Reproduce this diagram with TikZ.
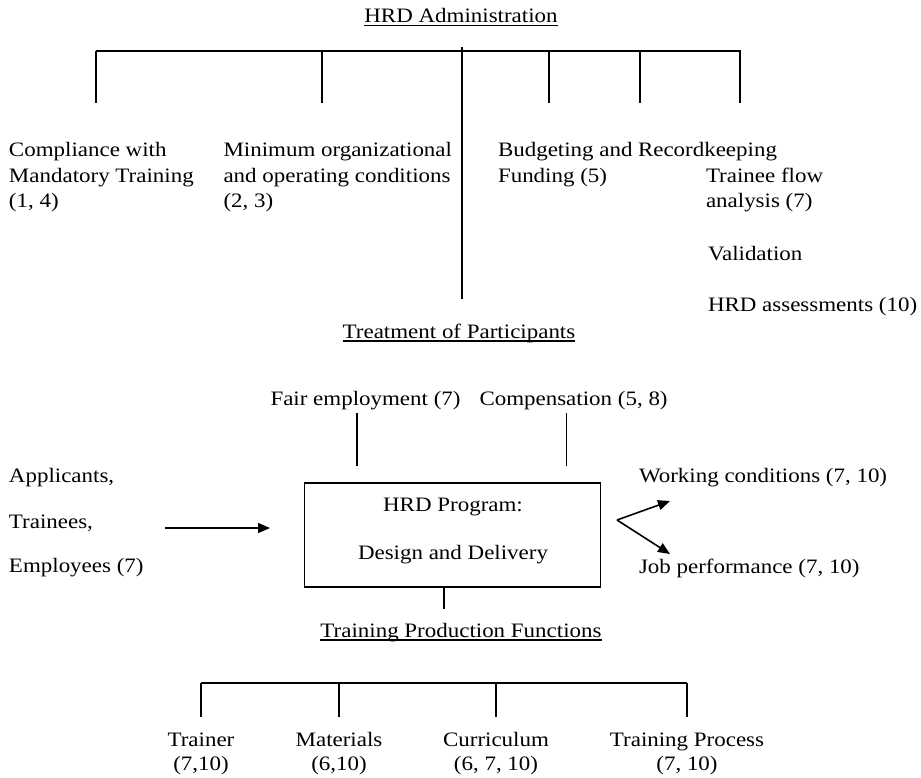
\documentclass[tikz,border=0pt]{standalone}
\usepackage{fontspec}
\setmainfont{Liberation Serif}[FakeStretch=1.12]
\usetikzlibrary{arrows.meta,calc}

\begin{document}
\begin{tikzpicture}[x=1pt,y=-1pt,
  every node/.style={inner sep=0pt, outer sep=0pt, font=\fontsize{20.5}{25.5}\selectfont},
  txt/.style={anchor=base west},
  ctr/.style={anchor=base},
  wire/.style={line width=1.2pt},
  arr/.style={line width=1.6pt, -{Triangle[length=12pt,width=10pt]}},
  uline/.style={line width=1.1pt},
  progbox/.style={draw, line width=1.2pt, minimum width=296pt, minimum height=104pt}]

\useasboundingbox (0,0) rectangle (921,777);

% ---------- HRD Administration ----------
\node[ctr] (adm) at (461,22.5) {HRD Administration};
\draw[uline] ($(adm.base west)+(0,3)$) -- ($(adm.base east)+(0,3)$);

\coordinate (admtop) at (462,47);
\coordinate (admbot) at (462,299);
\coordinate (busL) at (96,51);
\coordinate (busR) at (741,51);
\draw[wire] (busL) -- (busR);
\draw[wire] (admtop) -- (admbot);
\foreach \x [count=\i] in {96,322,549,640,740} {
  \coordinate (dropA\i) at (\x,51);
  \coordinate (dropB\i) at (\x,103);
  \draw[wire] (dropA\i) -- (dropB\i);
}

\node[txt] (comp1) at (9,156.5) {Compliance with};
\node[txt] (comp2) at (9,182) {Mandatory Training};
\node[txt] (comp3) at (9,207.5) {(1, 4)};

\node[txt] (mini1) at (223.5,156.5) {Minimum organizational};
\node[txt] (mini2) at (223.5,182) {and operating conditions};
\node[txt] (mini3) at (223.5,207.5) {(2, 3)};

\node[txt] (bud1) at (498,156.5) {Budgeting and};
\node[txt] (bud2) at (498,182) {Funding (5)};
\node[txt] (rec) at (638,156.5) {Recordkeeping};

\node[txt] (tfa1) at (706,182) {Trainee flow};
\node[txt] (tfa2) at (706,207.5) {analysis (7)};
\node[txt] (valid) at (708,260) {Validation};
\node[txt] (assess) at (708,311) {HRD assessments (10)};

% ---------- Treatment of Participants ----------
\node[ctr] (treat) at (459,338) {Treatment of Participants};
\draw[uline] ($(treat.base west)+(0,3)$) -- ($(treat.base east)+(0,3)$);

\node[txt] (fair) at (270.5,405) {Fair employment (7)};
\node[txt] (compens) at (479.5,405) {Compensation (5, 8)};
\coordinate (fairT) at (357,413);
\coordinate (fairB) at (357,466);
\coordinate (compT) at (566.5,413);
\coordinate (compB) at (566.5,466);
\draw[wire] (fairT) -- (fairB);
\draw[wire] (compT) -- (compB);

\node[progbox] (prog) at (452.5,535) {};
\node[ctr] (prog1) at (453,511) {HRD Program:};
\node[ctr] (prog2) at (453,559) {Design and Delivery};

\node[txt] (appl) at (9,482) {Applicants,};
\node[txt] (train) at (9,528) {Trainees,};
\node[txt] (empl) at (9,572) {Employees (7)};
\coordinate (inS) at (165,528);
\coordinate (inE) at (270,528);
\draw[arr] (inS) -- (inE);

\node[txt] (work) at (639,482) {Working conditions (7, 10)};
\node[txt] (job) at (639,573) {Job performance (7, 10)};
\coordinate (fork) at (617,520);
\coordinate (forkU) at (670,501);
\coordinate (forkD) at (670,554);
\draw[arr] (fork) -- (forkU);
\draw[arr] (fork) -- (forkD);

% ---------- Training Production Functions ----------
\coordinate (progfoot) at (444,609);
\draw[wire] (prog.south -| progfoot) -- (progfoot);
\node[ctr] (tpf) at (461,637) {Training Production Functions};
\draw[uline] ($(tpf.base west)+(0,3)$) -- ($(tpf.base east)+(0,3)$);

\coordinate (lbusL) at (201,683);
\coordinate (lbusR) at (687,683);
\draw[wire] (lbusL) -- (lbusR);
\foreach \x/\a/\b [count=\i] in {201/Trainer/(7{,}10), 339/Materials/(6{,}10),
    496/Curriculum/{(6, 7, 10)}, 687/Training Process/{(7, 10)}} {
  \coordinate (ldropA\i) at (\x,683);
  \coordinate (ldropB\i) at (\x,717);
  \draw[wire] (ldropA\i) -- (ldropB\i);
  \node[ctr] (fn\i) at (\x,746) {\a};
  \node[ctr] (fnref\i) at (\x,770) {\b};
}
\end{tikzpicture}
\end{document}
